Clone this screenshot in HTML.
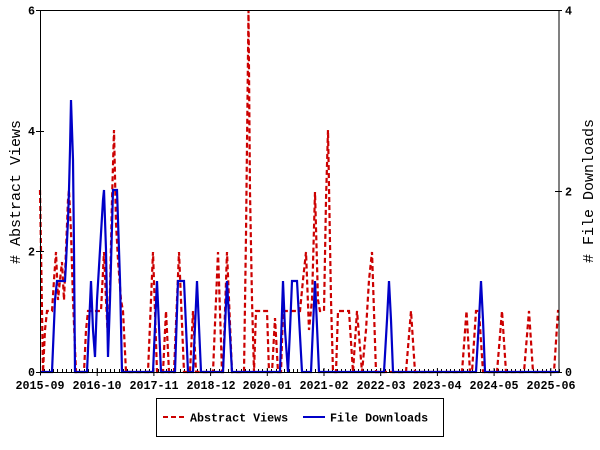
<!DOCTYPE html>
<html><head><meta charset="utf-8"><style>
html,body{margin:0;padding:0;background:#fff;}
svg{display:block;}
.t{font-family:"Liberation Mono",monospace;font-weight:bold;font-size:11.7px;fill:#000;}
.al{font-family:"Liberation Mono",monospace;font-size:15px;fill:#000;}
</style></head><body>
<svg width="600" height="450" viewBox="0 0 600 450" xmlns="http://www.w3.org/2000/svg">
<rect x="0" y="0" width="600" height="450" fill="#fff"/>
<g stroke="#000" stroke-width="1" id="minor"></g>
<path d="M40.5 368.5V375.5M97.2 368V376M153.9 368V376M210.6 368V376M267.3 368V376M324 368V376M380.7 368V376M437.4 368V376M494.1 368V376M550.8 368V376" stroke="#000" stroke-width="1"/>
<path d="M36 372.5H44M36 251.5H44M36 131.5H44M36 10.5H44M555 372.5H562M555 191.5H562M555 10.5H562" stroke="#000" stroke-width="1"/>
<polyline fill="none" stroke="#cc0000" stroke-width="2.2" stroke-dasharray="5,3" points="40,190 41,250 43,372 45,330 47,311 52,311 54,280 56,252 58,300 60,280 62,262 64,300 66,250 68,200 69,190 71,232 73,300 76,372 84,372 86,330 88,311 101,311 104,252 106,300 108,340 110,290 112,200 114,130 116,223 118,260 121,300 123,311 126,372 148,372 153,252 157,372 163,372 166,311 169,372 174,372 179,252 184,372 190,372 193,311 196,372 213,372 218,252 222,372 223,372 227,252 232,372 244,372 246,235 248.5,10 250,192 252,300 254,372 256,311 267,311 269,372 272,372 275,318 278,372 281,372 283,311 300,311 303,280 306,252 309,330 312,300 315,192 318,300 320,311 324,311 326,200 328,130 331,300 333,372 336,372 338,311 349,311 353,372 357,311 362,372 366,330 369,280 372,252 376,372 406,372 411,311 415,372 462,372 466.5,311 470,372 472,372 476,311 479,311 483,372 497,372 502,311 506,372 524,372 529,311 533,372 554,372 558,311 559,311"/>
<polyline fill="none" stroke="#0000c8" stroke-width="2.2" points="40,372 52,372 55,300 57,281 65,281 66,263 68,220 69,190 70,150 71,100 72,130 73,160 74,250 75,372 87,372 91,281 93,330 95,357 97,300 100,250 103,200 104,190 106,250 108,357 110,300 113,190 117,190 120,280 122,372 153,372 157,281 161,372 175,372 178,281 184,281 188,372 193,372 197,281 201,372 223,372 227,281 232,372 280,372 283,281 285,330 288,372 290,330 292,281 297,281 302,372 311,372 315,281 319,372 384,372 387,320 389,281 391,320 393,372 476,372 479,320 481,281 483,320 485,372 559,372"/>
<rect x="40.5" y="10.5" width="518.5" height="362" fill="none" stroke="#000" stroke-width="1"/>
<g class="t" text-anchor="end">
<text x="35" y="376">0</text>
<text x="35" y="255.5">2</text>
<text x="35" y="135">4</text>
<text x="35" y="14.5">6</text>
</g>
<g class="t" text-anchor="start">
<text x="565" y="376">0</text>
<text x="565" y="195.5">2</text>
<text x="565" y="14.5">4</text>
</g>
<g class="t" text-anchor="middle">
<text x="40" y="389">2015-09</text>
<text x="97" y="389">2016-10</text>
<text x="154" y="389">2017-11</text>
<text x="211" y="389">2018-12</text>
<text x="267" y="389">2020-01</text>
<text x="324" y="389">2021-02</text>
<text x="381" y="389">2022-03</text>
<text x="437" y="389">2023-04</text>
<text x="494" y="389">2024-05</text>
<text x="551" y="389">2025-06</text>
</g>
<text class="al" text-anchor="middle" transform="translate(20,192) rotate(-90)"># Abstract Views</text>
<text class="al" text-anchor="middle" transform="translate(593,191) rotate(-90)"># File Downloads</text>
<rect x="156.5" y="398.5" width="287" height="38" fill="#fff" stroke="#000" stroke-width="1"/>
<line x1="163" y1="417" x2="184" y2="417" stroke="#cc0000" stroke-width="2" stroke-dasharray="5,3"/>
<line x1="303" y1="417" x2="325" y2="417" stroke="#0000c8" stroke-width="2"/>
<text class="t" x="190" y="421.5">Abstract Views</text>
<text class="t" x="330" y="421.5">File Downloads</text>
</svg>
<script>
(function(){
var g=document.getElementById('minor');var d='';
for(var i=0;i<=119;i++){var x=40+i*519/119;d+='M'+(Math.round(x)+0.5)+' 369V372';}
var p=document.createElementNS('http://www.w3.org/2000/svg','path');p.setAttribute('d',d);g.appendChild(p);
})();
</script>
</body></html>
